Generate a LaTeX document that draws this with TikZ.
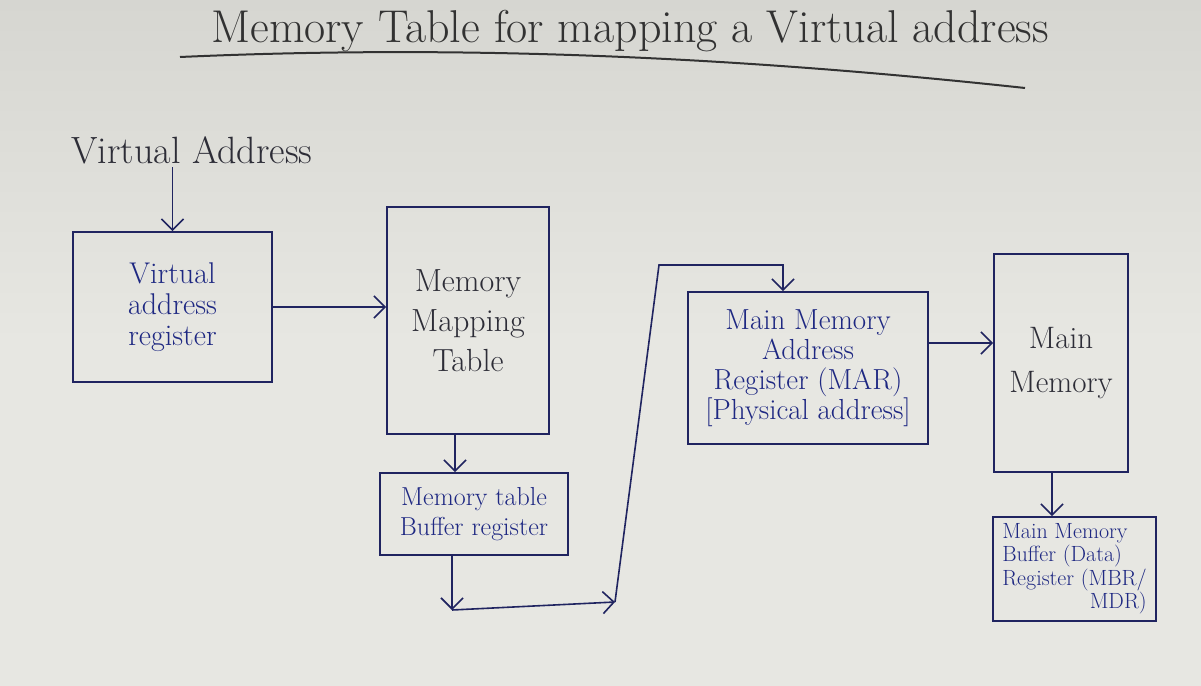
\documentclass[tikz,border=0pt]{standalone}
\usetikzlibrary{arrows.meta,calc}
\definecolor{bgtop}{RGB}{214,214,209}
\definecolor{bgc}{RGB}{231,231,226}
\definecolor{ink}{RGB}{32,36,96}
\definecolor{bluetxt}{RGB}{30,40,130}
\definecolor{graytxt}{RGB}{45,45,55}
\definecolor{titlec}{RGB}{50,50,50}
\tikzset{
  boxnode/.style={draw=ink, line width=1.8pt, rectangle, inner sep=2pt, align=center},
  arr/.style={draw=ink, line width=1.6pt, -{Straight Barb[length=11pt,width=22pt,line width=1.6pt]}},
}
\begin{document}
\begin{tikzpicture}[x=1pt,y=-1pt]
\shade[top color=bgtop, bottom color=bgc, middle color=bgc] (0,0) rectangle (1201,685);
\useasboundingbox (0,0) rectangle (1201,685);
% title
\node[text=titlec, anchor=base, inner sep=0pt, font=\fontsize{46}{50}\selectfont] (title) at (630,42) {Memory Table for mapping a Virtual address};
\draw[titlec, line width=2pt] (180,57) .. controls (450,45) and (720,55) .. (1025,88);
% virtual address label
\node[text=graytxt, font=\fontsize{38}{42}\selectfont] (va) at (192,150) {Virtual Address};
% boxes
\node[boxnode, minimum width=199pt, minimum height=150pt, text=bluetxt, font=\fontsize{30}{31}\selectfont] (var) at (172.5,307) {Virtual\\address\\register};
\node[boxnode, minimum width=162pt, minimum height=227pt, text=graytxt, font=\fontsize{32}{40}\selectfont] (mmt) at (468,320.5) {Memory\\Mapping\\Table};
\node[boxnode, minimum width=188pt, minimum height=82pt, text=bluetxt, font=\fontsize{26}{30}\selectfont] (mtbr) at (474,514) {Memory table\\Buffer register};
\node[boxnode, minimum width=240pt, minimum height=152pt, text=bluetxt, font=\fontsize{29}{30}\selectfont] (mar) at (808,368) {Main Memory\\Address\\Register (MAR)\\{[}Physical address{]}};
\node[boxnode, minimum width=134pt, minimum height=218pt, text=graytxt, font=\fontsize{31}{44}\selectfont] (mm) at (1061,363) {Main\\Memory};
\node[boxnode, minimum width=163pt, minimum height=104pt, text=bluetxt, font=\fontsize{22}{23}\selectfont] (mbr) at (1074.5,569) {\begin{tabular}{@{}l@{}}Main Memory\\Buffer (Data)\\Register (MBR/\\\multicolumn{1}{@{}r@{}}{MDR)}\end{tabular}};
% connectors
\draw[arr] (va.south -| var.north) -- (var.north);
\draw[arr] (var.east) -- (var.east -| mmt.west);
\draw[arr] ([xshift=-13pt]mmt.south) -- ([xshift=-13pt]mmt.south |- mtbr.north);
\coordinate (c1) at (452,610);
\coordinate (c2) at (615,602);
\coordinate (c3) at (659,265);
\coordinate (c4) at (783,265);
\draw[arr] (mtbr.south -| c1) -- (c1);
\draw[arr] (c1) -- (c2);
\draw[arr] (c2) -- (c3) -- (c4) -- (c4 |- mar.north);
\draw[arr] ([yshift=25pt]mar.east) -- ([yshift=25pt]mar.east -| mm.west);
\draw[arr] ([xshift=-9pt]mm.south) -- ([xshift=-9pt]mm.south |- mbr.north);
\end{tikzpicture}
\end{document}
